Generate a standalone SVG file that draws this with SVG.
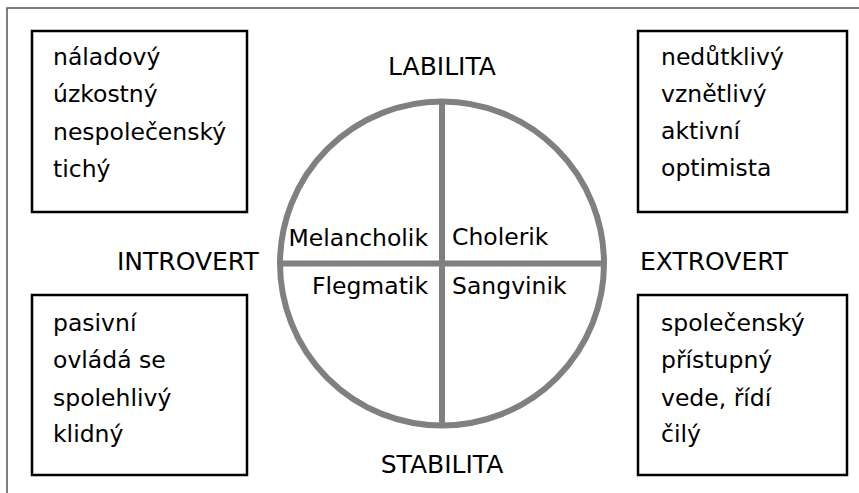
<svg xmlns="http://www.w3.org/2000/svg" width="859" height="493" viewBox="0 0 859 493">
<style>
text{font-family:"DejaVu Sans","Verdana",sans-serif;font-size:23.5px;fill:#000}
.cap{font-size:25px}
.box{fill:#fff;stroke:#000;stroke-width:2.5}
.g{fill:none;stroke:#808080;stroke-width:6}
.mid{text-anchor:middle}
.end{text-anchor:end}
</style>
<rect width="859" height="493" fill="#fff"/>
<rect x="7" y="8" width="900" height="600" fill="none" stroke="#555" stroke-width="1.5"/>
<g id="connectors">
<circle class="g" cx="442" cy="263.5" r="162"/>
<line class="g" x1="442" y1="101.5" x2="442" y2="425.5"/>
<line class="g" x1="280" y1="263.5" x2="604" y2="263.5"/>
</g>
<g id="labilita"><text class="mid cap" x="442" y="75">LABILITA</text></g>
<g id="stabilita"><text class="mid cap" x="442" y="473">STABILITA</text></g>
<g id="introvert"><text class="cap" x="117" y="270">INTROVERT</text></g>
<g id="extrovert"><text class="cap" x="640" y="270">EXTROVERT</text></g>
<g id="melancholik"><text class="end" x="428" y="246">Melancholik</text></g>
<g id="cholerik"><text x="452" y="245">Cholerik</text></g>
<g id="flegmatik"><text class="end" x="428" y="294">Flegmatik</text></g>
<g id="sangvinik"><text x="452" y="294">Sangvinik</text></g>
<g id="box-tl">
<rect class="box" x="32" y="31" width="215" height="181"/>
<text x="53" y="65">náladový</text>
<text x="53" y="102">úzkostný</text>
<text x="53" y="140">nespolečenský</text>
<text x="53" y="177">tichý</text>
</g>
<g id="box-tr">
<rect class="box" x="638" y="31" width="209" height="181"/>
<text x="661" y="65">nedůtklivý</text>
<text x="661" y="102">vznětlivý</text>
<text x="661" y="139">aktivní</text>
<text x="661" y="176">optimista</text>
</g>
<g id="box-bl">
<rect class="box" x="32" y="295" width="215" height="180"/>
<text x="53" y="331">pasivní</text>
<text x="53" y="368">ovládá se</text>
<text x="53" y="406">spolehlivý</text>
<text x="53" y="442">klidný</text>
</g>
<g id="box-br">
<rect class="box" x="638" y="295" width="209" height="180"/>
<text x="661" y="331">společenský</text>
<text x="661" y="368">přístupný</text>
<text x="661" y="406">vede, řídí</text>
<text x="661" y="442">čilý</text>
</g>
</svg>
